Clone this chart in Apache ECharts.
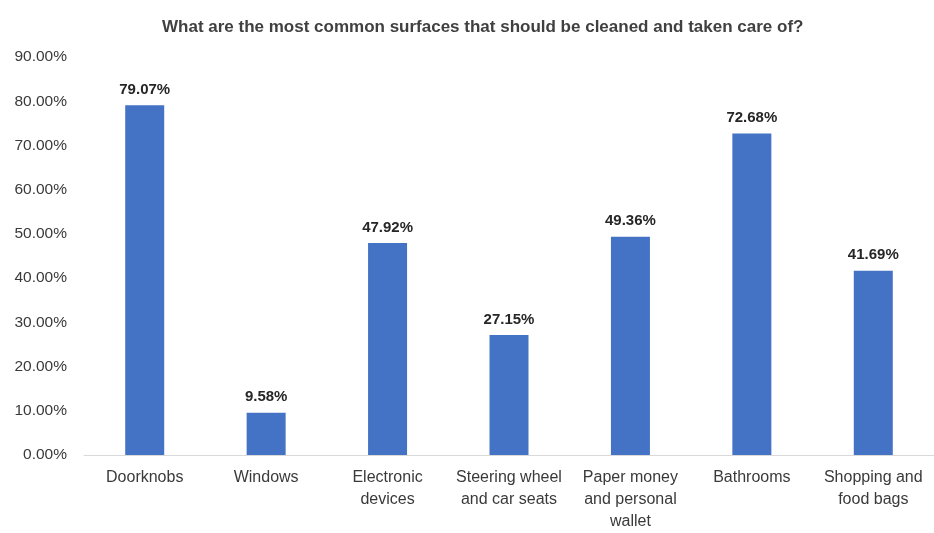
<!DOCTYPE html>
<html><head><meta charset="utf-8">
<script src="https://cdn.jsdelivr.net/npm/echarts@6/dist/echarts.min.js"></script>
<style>html,body{margin:0;padding:0;background:#fff}#c{width:934px;height:533px}</style>
</head><body><div id="c"></div>
<script>
const categories = ['Doorknobs', 'Windows', 'Electronic\ndevices', 'Steering wheel\nand car seats', 'Paper money\nand personal\nwallet', 'Bathrooms', 'Shopping and\nfood bags'];
const values = [79.07, 9.58, 47.92, 27.15, 49.36, 72.68, 41.69];
const yTicks = { min: 0, max: 90, interval: 10 };
const title = 'What are the most common surfaces that should be cleaned and taken care of?';

const chart = echarts.init(document.getElementById('c'));
chart.setOption({
  animation: false,
  title: { text: title, left: 157, top: 14,
    textStyle: { fontFamily: 'Liberation Sans', fontSize: 17, fontWeight: 'bold', color: '#404040' } },
  grid: { left: 84, right: 0, top: 57, bottom: 75, containLabel: false },
  xAxis: { type: 'category', data: categories,
    axisLine: { lineStyle: { color: '#d9d9d9' } }, axisTick: { show: false },
    axisLabel: { interval: 0, margin: 12, lineHeight: 22, fontFamily: 'Liberation Sans', fontSize: 16, color: '#3a3a3a' } },
  yAxis: { type: 'value', min: yTicks.min, max: yTicks.max, interval: yTicks.interval,
    splitLine: { show: false }, axisLine: { show: false }, axisTick: { show: false },
    axisLabel: { margin: 17, fontFamily: 'Liberation Sans', fontSize: 15.5, color: '#3a3a3a',
      formatter: v => v.toFixed(2) + '%' } },
  series: [{ type: 'bar', data: values, barWidth: 39,
    itemStyle: { color: '#4472C4' },
    label: { show: true, position: 'top', distance: 8, fontFamily: 'Liberation Sans', fontSize: 15, fontWeight: 'bold', color: '#262626',
      formatter: p => p.value.toFixed(2) + '%' } }]
});
</script></body></html>
